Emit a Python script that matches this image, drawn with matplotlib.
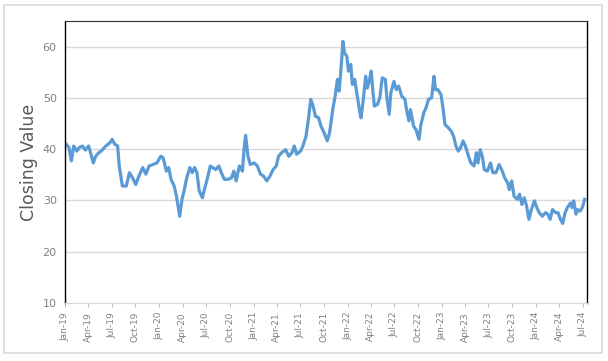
import matplotlib
matplotlib.use('Agg')
import matplotlib.pyplot as plt
import matplotlib.dates as mdates
from matplotlib.patches import Rectangle
import numpy as np
import pandas as pd

# months since 1 Jan 2019 and closing values
months = [0.0, 0.5, 0.8, 1.1, 1.5, 1.8, 2.2, 2.6, 3.0, 3.3, 3.6, 3.9, 4.3, 4.6, 5.2,
          5.7, 6.0, 6.3, 6.7, 6.9, 7.3, 7.8, 8.2, 8.6, 9.0, 9.4, 9.9, 10.3, 10.7, 11.2,
          11.7, 12.2, 12.5, 12.9, 13.2, 13.5, 13.9, 14.2, 14.4, 14.6, 14.9, 15.2, 15.5,
          15.9, 16.2, 16.5, 16.8, 17.1, 17.5, 17.7, 18.1, 18.5, 18.8, 19.2, 19.6, 19.9,
          20.3, 20.8, 21.2, 21.5, 21.8, 22.2, 22.6, 22.8, 23.0, 23.3, 23.6, 24.1, 24.5,
          24.9, 25.3, 25.7, 26.1, 26.5, 26.9, 27.2, 27.6, 28.1, 28.5, 28.9, 29.2, 29.5,
          30.0, 30.3, 30.7, 31.0, 31.3, 31.6, 31.9, 32.3, 32.6, 33.0, 33.4, 33.7, 34.1,
          34.4, 34.7, 34.9, 35.1, 35.4, 35.6, 35.9, 36.1, 36.4, 36.6, 36.9, 37.2, 37.5,
          37.7, 38.0, 38.3, 38.5, 38.8, 39.0, 39.2, 39.4, 39.8, 40.1, 40.4, 40.8, 41.0,
          41.3, 41.5, 41.9, 42.2, 42.5, 42.9, 43.3, 43.5, 43.8, 44.0, 44.4, 44.7, 45.1,
          45.3, 45.7, 46.0, 46.3, 46.7, 47.0, 47.2, 47.5, 47.9, 48.2, 48.4, 48.8, 49.2,
          49.5, 49.8, 50.1, 50.4, 50.7, 51.0, 51.4, 51.7, 52.1, 52.4, 52.6, 52.9, 53.2,
          53.4, 53.8, 54.2, 54.5, 54.9, 55.3, 55.7, 56.0, 56.4, 56.6, 56.9, 57.2, 57.6,
          57.9, 58.2, 58.5, 58.8, 59.1, 59.4, 59.8, 60.1, 60.4, 60.8, 61.2, 61.5, 61.8,
          62.1, 62.5, 62.8, 63.1, 63.4, 63.7, 64.0, 64.4, 64.6, 64.8, 65.1, 65.3, 65.6,
          65.9, 66.2]
closing = [41.2, 40.3, 37.7, 40.6, 39.6, 40.3, 40.6, 39.8, 40.6, 39.0, 37.3, 38.6, 39.3,
           39.6, 40.6, 41.2, 41.9, 41.0, 40.6, 36.7, 32.8, 32.8, 35.4, 34.4, 33.1, 34.7,
           36.4, 35.1, 36.7, 37.0, 37.3, 38.6, 38.3, 35.7, 36.4, 34.1, 32.8, 30.8, 28.9,
           26.9, 30.2, 32.1, 34.4, 36.4, 35.4, 36.4, 35.4, 31.8, 30.5, 31.8, 34.1, 36.7,
           36.4, 36.0, 36.7, 35.4, 34.1, 34.1, 34.4, 35.7, 33.8, 36.7, 35.7, 39.9, 42.7,
           38.6, 37.0, 37.3, 36.7, 35.1, 34.7, 33.8, 34.7, 36.0, 36.7, 38.6, 39.3, 39.9,
           38.6, 39.3, 40.6, 39.0, 39.6, 40.6, 42.5, 45.8, 49.7, 48.4, 46.4, 46.1, 44.5,
           43.2, 41.6, 43.2, 47.7, 50.3, 53.6, 51.3, 54.5, 61.0, 58.8, 58.1, 55.2, 56.5,
           52.6, 53.6, 50.6, 47.7, 46.1, 49.7, 54.2, 51.9, 53.6, 55.2, 51.6, 48.4, 48.7,
           50.0, 53.9, 53.6, 50.0, 46.8, 51.0, 53.2, 51.6, 52.3, 50.3, 49.7, 47.7, 45.5,
           47.7, 44.5, 43.8, 41.9, 44.5, 47.1, 48.1, 49.7, 50.0, 54.2, 51.6, 51.6, 50.6,
           47.4, 44.8, 44.2, 43.5, 42.5, 40.6, 39.6, 40.3, 41.6, 40.6, 38.6, 37.3, 36.7,
           39.3, 37.3, 39.9, 38.3, 36.0, 35.7, 37.3, 35.4, 35.4, 37.0, 35.7, 34.4, 33.4,
           32.1, 33.8, 30.8, 30.2, 31.2, 29.2, 30.5, 28.9, 26.3, 28.2, 29.9, 28.6, 27.6,
           26.9, 27.6, 27.3, 26.3, 28.2, 27.6, 27.6, 26.3, 25.5, 27.6, 28.6, 29.5, 28.6,
           29.9, 27.3, 28.2, 27.9, 28.6, 30.2]

start = pd.Timestamp('2019-01-01')
dates = [start + pd.Timedelta(days=m * 30.44) for m in months]

fig = plt.figure(figsize=(6.08, 3.61), dpi=100)
ax = fig.add_axes([0.107, 0.161, 0.858, 0.781])

ax.plot(dates, closing, color='#5b9bd5', linewidth=2.3)

ax.set_ylim(10, 65)
ax.set_yticks([10, 20, 30, 40, 50, 60])
ax.set_xlim(pd.Timestamp('2019-01-01'), pd.Timestamp('2024-07-16'))
ax.xaxis.set_major_locator(mdates.MonthLocator(bymonth=[1, 4, 7, 10]))
ax.xaxis.set_major_formatter(mdates.DateFormatter('%b-%y'))

ax.grid(axis='y', color='#d9d9d9', linewidth=1.0)
ax.set_axisbelow(True)
ax.tick_params(axis='y', length=0, labelsize=8, labelcolor='#808080', pad=6)
ax.tick_params(axis='x', length=3, color='#bfbfbf', labelsize=6.5, labelcolor='#808080',
               labelrotation=90)

for s in ['left', 'right']:
    ax.spines[s].set_color('black')
    ax.spines[s].set_linewidth(1.0)
ax.spines['top'].set_color('#303030')
ax.spines['bottom'].set_color('#d9d9d9')

ax.set_ylabel('Closing Value', fontsize=12.5, color='#595959', labelpad=3)

# light frame round the whole chart
fig.patches.append(Rectangle((0.006, 0.022), 0.984, 0.965, transform=fig.transFigure,
                             fill=False, edgecolor='#d9d9d9', linewidth=1.2))

fig.savefig('out.png', dpi=100)
